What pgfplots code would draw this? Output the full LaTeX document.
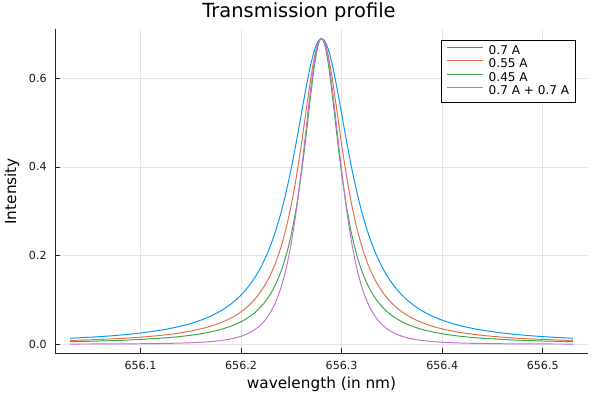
\documentclass[border=0pt]{standalone}
\usepackage{pgfplots}
\usepackage{pgfplotstable}
\usepackage{fontspec}
\setmainfont{DejaVu Sans}
\pgfplotsset{compat=1.18}
\definecolor{jlblue}{RGB}{0,154,250}
\definecolor{jlorange}{RGB}{227,111,71}
\definecolor{jlgreen}{RGB}{62,164,78}
\definecolor{jlpurple}{RGB}{194,113,210}

% x, 0.7 A, 0.55 A, 0.45 A, 0.7 A + 0.7 A
\pgfplotstableread{
x a b c d
656.03 0.01326 0.00825 0.00554 0.000255
656.06 0.01703 0.01062 0.00714 0.000420
656.08 0.02050 0.01280 0.00862 0.000609
656.10 0.02514 0.01574 0.01062 0.000916
656.12 0.03151 0.01980 0.01338 0.00144
656.13 0.03563 0.02244 0.01518 0.00184
656.14 0.04059 0.02563 0.01737 0.00239
656.15 0.04663 0.02955 0.02007 0.00315
656.16 0.05410 0.03443 0.02343 0.00424
656.17 0.06343 0.04059 0.02771 0.00583
656.18 0.07530 0.04851 0.03325 0.00822
656.185 0.08246 0.05335 0.03665 0.00986
656.19 0.09064 0.05892 0.04059 0.01191
656.195 0.10003 0.06538 0.04518 0.01450
656.20 0.11085 0.07292 0.05058 0.01781
656.205 0.12339 0.08177 0.05697 0.02207
656.21 0.13800 0.09225 0.06461 0.02760
656.215 0.15509 0.10476 0.07383 0.03486
656.22 0.17518 0.11978 0.08507 0.04448
656.225 0.19888 0.13800 0.09892 0.05733
656.23 0.22691 0.16025 0.11620 0.07462
656.235 0.26008 0.18762 0.13800 0.09803
656.24 0.29920 0.22146 0.16585 0.12974
656.245 0.34500 0.26338 0.20177 0.17250
656.25 0.39776 0.31506 0.24840 0.22930
656.255 0.45689 0.37778 0.30878 0.30254
656.26 0.52015 0.45130 0.38545 0.39211
656.2625 0.55200 0.49112 0.42992 0.44160
656.265 0.58293 0.53178 0.47769 0.49248
656.2675 0.61195 0.57185 0.52727 0.54272
656.27 0.63792 0.60942 0.57619 0.58978
656.2725 0.65971 0.64223 0.62100 0.63075
656.275 0.67620 0.66792 0.65753 0.66268
656.2775 0.68650 0.68434 0.68158 0.68301
656.28 0.69000 0.69000 0.69000 0.69000
656.2825 0.68650 0.68434 0.68158 0.68301
656.285 0.67620 0.66792 0.65753 0.66268
656.2875 0.65971 0.64223 0.62100 0.63075
656.29 0.63792 0.60942 0.57619 0.58978
656.2925 0.61195 0.57185 0.52727 0.54272
656.295 0.58293 0.53178 0.47769 0.49248
656.2975 0.55200 0.49112 0.42992 0.44160
656.30 0.52015 0.45130 0.38545 0.39211
656.305 0.45689 0.37778 0.30878 0.30254
656.31 0.39776 0.31506 0.24840 0.22930
656.315 0.34500 0.26338 0.20177 0.17250
656.32 0.29920 0.22146 0.16585 0.12974
656.325 0.26008 0.18762 0.13800 0.09803
656.33 0.22691 0.16025 0.11620 0.07462
656.335 0.19888 0.13800 0.09892 0.05733
656.34 0.17518 0.11978 0.08507 0.04448
656.345 0.15509 0.10476 0.07383 0.03486
656.35 0.13800 0.09225 0.06461 0.02760
656.355 0.12339 0.08177 0.05697 0.02207
656.36 0.11085 0.07292 0.05058 0.01781
656.365 0.10003 0.06538 0.04518 0.01450
656.37 0.09064 0.05892 0.04059 0.01191
656.375 0.08246 0.05335 0.03665 0.00986
656.38 0.07530 0.04851 0.03325 0.00822
656.39 0.06343 0.04059 0.02771 0.00583
656.40 0.05410 0.03443 0.02343 0.00424
656.41 0.04663 0.02955 0.02007 0.00315
656.42 0.04059 0.02563 0.01737 0.00239
656.43 0.03563 0.02244 0.01518 0.00184
656.44 0.03151 0.01980 0.01338 0.00144
656.46 0.02514 0.01574 0.01062 0.000916
656.48 0.02050 0.01280 0.00862 0.000609
656.50 0.01703 0.01062 0.00714 0.000420
656.53 0.01326 0.00825 0.00554 0.000255
}\datatable

\begin{document}
\begin{tikzpicture}
\begin{axis}[
  scale only axis,
  width=383.76pt, height=233.28pt,
  xmin=656.015, xmax=656.545,
  ymin=-0.0207, ymax=0.7107,
  axis x line*=bottom, axis y line*=left,
  axis line style={black!85, line width=0.7pt},
  xtick={656.1,656.2,656.3,656.4,656.5},
  ytick={0,0.2,0.4,0.6},
  xticklabels={656.1,656.2,656.3,656.4,656.5},
  yticklabels={0.0,0.2,0.4,0.6},
  scaled y ticks=false, scaled x ticks=false,
  tick align=inside,
  major tick length=3.5pt,
  tick style={black!85, line width=0.6pt},
  grid=major,
  major grid style={black!10, line width=0.4pt},
  ticklabel style={font=\fontsize{8}{9.6}\selectfont, text=black!90},
  xticklabel style={inner sep=0pt, anchor=north, yshift=-5.3pt},
  yticklabel style={inner sep=0pt, anchor=east, xshift=-5.8pt},
  xlabel={wavelength (in nm)},
  ylabel={Intensity},
  xlabel style={font=\fontsize{11}{13}\selectfont, at={(axis description cs:0.5,-0.097)}, anchor=center, inner sep=0pt},
  ylabel style={font=\fontsize{11}{13}\selectfont, at={(axis description cs:-0.0807,0.5)}, anchor=center, inner sep=0pt},
  title={Transmission profile},
  title style={font=\fontsize{14}{17}\selectfont, at={(axis description cs:0.4578,1.0534)}, anchor=center, inner sep=0pt, yshift=-6pt},
  legend style={at={(rel axis cs:1,1)}, anchor=north east, xshift=-9pt, yshift=-7.7pt,
    draw=black, line width=0.5pt, font=\fontsize{8.7}{10}\selectfont,
    inner xsep=3.5pt, inner ysep=3pt, row sep=0pt, column sep=3pt,
    nodes={inner sep=0.8pt, text height=6.4pt, text depth=1.6pt}},
  legend cell align=left,
]
\addplot[color=jlblue, line width=0.7pt, smooth,
  legend image code/.code={\draw[jlblue, line width=0.8pt] (0pt,2.6pt) -- (26pt,2.6pt);}] table[x=x, y=a] {\datatable};
\addplot[color=jlorange, line width=0.7pt, smooth,
  legend image code/.code={\draw[jlorange, line width=0.8pt] (0pt,2.6pt) -- (26pt,2.6pt);}] table[x=x, y=b] {\datatable};
\addplot[color=jlgreen, line width=0.7pt, smooth,
  legend image code/.code={\draw[jlgreen, line width=0.8pt] (0pt,2.6pt) -- (26pt,2.6pt);}] table[x=x, y=c] {\datatable};
\addplot[color=jlpurple, line width=0.7pt, smooth,
  legend image code/.code={\draw[jlpurple, line width=0.8pt] (0pt,2.6pt) -- (26pt,2.6pt);}] table[x=x, y=d] {\datatable};
\legend{0.7 A, 0.55 A, 0.45 A, 0.7 A + 0.7 A\hspace{3pt}}
\coordinate (bl) at (rel axis cs:0,0);
\coordinate (tr) at (rel axis cs:1,1);
\end{axis}
\pgfresetboundingbox
\path ([shift={(-39.6pt,-31.46pt)}]bl) rectangle ([shift={(7.2pt,21.1pt)}]tr);
\end{tikzpicture}
\end{document}
